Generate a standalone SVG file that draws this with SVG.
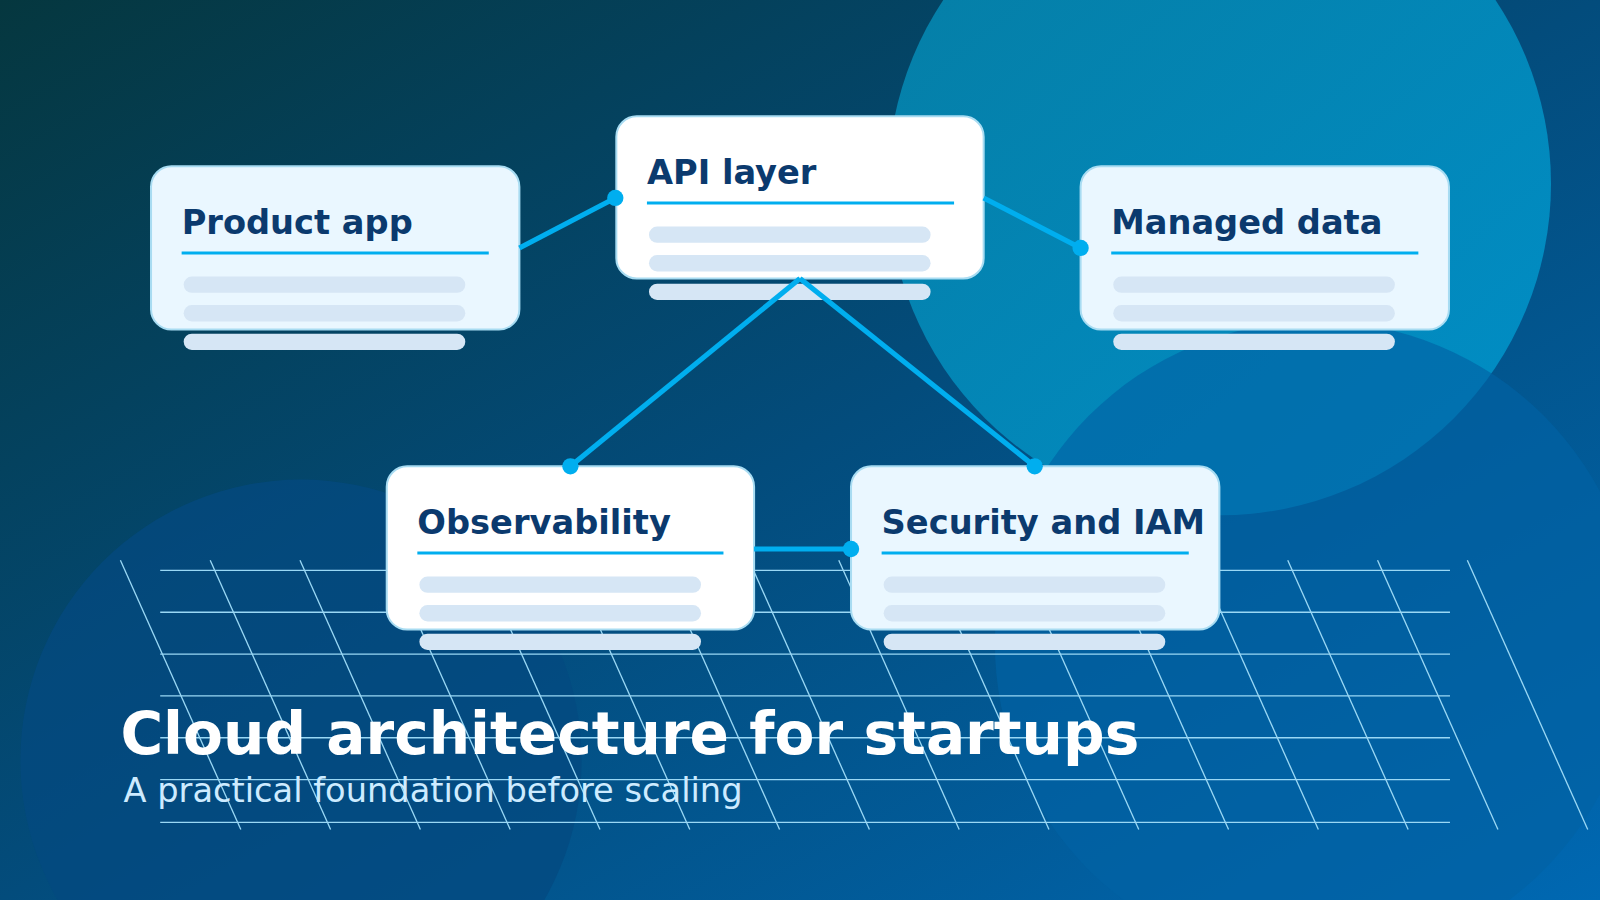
<svg xmlns="http://www.w3.org/2000/svg" width="1600" height="900" viewBox="0 0 1600 900">
<defs>
<linearGradient id="bg" x1="0" y1="0" x2="1" y2="1">
<stop offset="0" stop-color="#05373f"/><stop offset="0.5" stop-color="#034c7c"/><stop offset="1" stop-color="#0068b2"/>
</linearGradient>
<linearGradient id="c1" x1="0" y1="0" x2="1" y2="1">
<stop offset="0" stop-color="#0688b0"/><stop offset="1" stop-color="#0098d0"/>
</linearGradient>
<style>
.card{stroke:#a8dcf2;stroke-width:2}
.t{font-family:"DejaVu Sans",sans-serif;font-weight:bold;font-size:33px;fill:#0b3a6e}
.ul{stroke:#00aeef;stroke-width:3}
.bar{fill:#d6e6f5}
.con{stroke:#00aeef;stroke-width:5;fill:none}
.dot{fill:#00aeef}
.grid line{stroke:#9ad8f5;stroke-width:1.3}
</style>
</defs>
<rect width="1600" height="900" fill="url(#bg)"/>
<g transform="scale(1.0204)">
<circle cx="1195" cy="180" r="325" fill="url(#c1)" opacity="0.85"/>
<circle cx="1290" cy="630" r="315" fill="#0262a4" opacity="0.65"/>
<circle cx="295" cy="745" r="275" fill="#044a80" opacity="0.75"/>
<g class="grid">
<line x1="157" y1="559" x2="1421" y2="559"/><line x1="157" y1="600" x2="1421" y2="600"/><line x1="157" y1="641" x2="1421" y2="641"/><line x1="157" y1="682" x2="1421" y2="682"/><line x1="157" y1="723" x2="1421" y2="723"/><line x1="157" y1="764" x2="1421" y2="764"/><line x1="157" y1="806" x2="1421" y2="806"/>
<line x1="118" y1="549" x2="236" y2="813"/><line x1="206" y1="549" x2="324" y2="813"/><line x1="294" y1="549" x2="412" y2="813"/><line x1="382" y1="549" x2="500" y2="813"/><line x1="470" y1="549" x2="588" y2="813"/><line x1="558" y1="549" x2="676" y2="813"/><line x1="646" y1="549" x2="764" y2="813"/><line x1="734" y1="549" x2="852" y2="813"/><line x1="822" y1="549" x2="940" y2="813"/><line x1="910" y1="549" x2="1028" y2="813"/><line x1="998" y1="549" x2="1116" y2="813"/><line x1="1086" y1="549" x2="1204" y2="813"/><line x1="1174" y1="549" x2="1292" y2="813"/><line x1="1262" y1="549" x2="1380" y2="813"/><line x1="1350" y1="549" x2="1468" y2="813"/><line x1="1438" y1="549" x2="1556" y2="813"/>
</g>
<g id="product-app" transform="translate(148,163)">
<rect class="card" width="361" height="160" rx="20" fill="#eaf7ff"/>
<text class="t" x="30" y="66">Product app</text><line class="ul" x1="30" y1="85" x2="331" y2="85"/>
<rect class="bar" x="32" y="108" width="276" height="16" rx="8"/><rect class="bar" x="32" y="136" width="276" height="16" rx="8"/><rect class="bar" x="32" y="164" width="276" height="16" rx="8"/>
</g>
<g id="api-layer" transform="translate(604,114)">
<rect class="card" width="360" height="159" rx="20" fill="#ffffff"/>
<text class="t" x="30" y="66">API layer</text><line class="ul" x1="30" y1="85" x2="331" y2="85"/>
<rect class="bar" x="32" y="108" width="276" height="16" rx="8"/><rect class="bar" x="32" y="136" width="276" height="16" rx="8"/><rect class="bar" x="32" y="164" width="276" height="16" rx="8"/>
</g>
<g id="managed-data" transform="translate(1059,163)">
<rect class="card" width="361" height="160" rx="20" fill="#eaf7ff"/>
<text class="t" x="30" y="66">Managed data</text><line class="ul" x1="30" y1="85" x2="331" y2="85"/>
<rect class="bar" x="32" y="108" width="276" height="16" rx="8"/><rect class="bar" x="32" y="136" width="276" height="16" rx="8"/><rect class="bar" x="32" y="164" width="276" height="16" rx="8"/>
</g>
<g id="observability" transform="translate(379,457)">
<rect class="card" width="360" height="160" rx="20" fill="#ffffff"/>
<text class="t" x="30" y="66">Observability</text><line class="ul" x1="30" y1="85" x2="330" y2="85"/>
<rect class="bar" x="32" y="108" width="276" height="16" rx="8"/><rect class="bar" x="32" y="136" width="276" height="16" rx="8"/><rect class="bar" x="32" y="164" width="276" height="16" rx="8"/>
</g>
<g id="security" transform="translate(834,457)">
<rect class="card" width="361" height="160" rx="20" fill="#eaf7ff"/>
<text class="t" x="30" y="66">Security and IAM</text><line class="ul" x1="30" y1="85" x2="331" y2="85"/>
<rect class="bar" x="32" y="108" width="276" height="16" rx="8"/><rect class="bar" x="32" y="136" width="276" height="16" rx="8"/><rect class="bar" x="32" y="164" width="276" height="16" rx="8"/>
</g>
<g id="connectors">
<line class="con" x1="509" y1="243" x2="603" y2="194"/><circle class="dot" cx="603" cy="194" r="8"/>
<line class="con" x1="964" y1="194" x2="1059" y2="243"/><circle class="dot" cx="1059" cy="243" r="8"/>
<line class="con" x1="784" y1="273" x2="559" y2="457"/><circle class="dot" cx="559" cy="457" r="8"/>
<line class="con" x1="784" y1="273" x2="1014" y2="457"/><circle class="dot" cx="1014" cy="457" r="8"/>
<line class="con" x1="739" y1="538" x2="834" y2="538"/><circle class="dot" cx="834" cy="538" r="8"/>
</g>
<text x="118" y="739" font-family="DejaVu Sans, sans-serif" font-weight="bold" font-size="57" fill="#ffffff">Cloud architecture for startups</text>
<text x="121" y="786" font-family="DejaVu Sans, sans-serif" font-size="33" fill="#cdebff">A practical foundation before scaling</text>
</g>
</svg>
